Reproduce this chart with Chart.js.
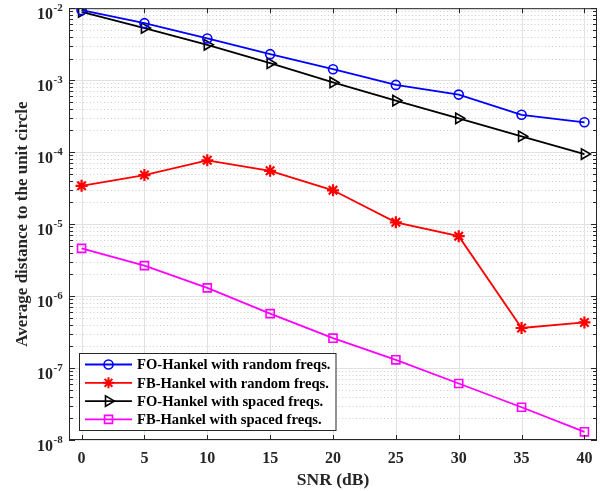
<!DOCTYPE html>
<html>
<head>
<meta charset="utf-8">
<script src="https://cdn.jsdelivr.net/npm/chart.js@4"></script>
<style>
  html, body { margin: 0; padding: 0; background: #fff; }
  #wrap { width: 608px; height: 491px; }
</style>
</head>
<body>
<div id="wrap"><canvas id="chartCanvas"></canvas></div>
<script>
"use strict";

const snr = [0, 5, 10, 15, 20, 25, 30, 35, 40];
const foRandom = [9.4e-3, 6.2e-3, 3.8e-3, 2.3e-3, 1.42e-3, 8.6e-4, 6.3e-4, 3.3e-4, 2.6e-4];
const fbRandom = [3.4e-5, 4.8e-5, 7.7e-5, 5.5e-5, 2.95e-5, 1.06e-5, 6.8e-6, 3.6e-7, 4.3e-7];
const foSpaced = [8.9e-3, 5.3e-3, 3.1e-3, 1.72e-3, 9.3e-4, 5.2e-4, 2.95e-4, 1.66e-4, 9.4e-5];
const fbSpaced = [4.6e-6, 2.65e-6, 1.3e-6, 5.7e-7, 2.6e-7, 1.3e-7, 6.1e-8, 2.85e-8, 1.3e-8];

const seriesLabels = [
  "FO-Hankel with random freqs.",
  "FB-Hankel with random freqs.",
  "FO-Hankel with spaced freqs.",
  "FB-Hankel with spaced freqs.",
];
const xTicks = [0, 5, 10, 15, 20, 25, 30, 35, 40];
const yExponents = [-8, -7, -6, -5, -4, -3, -2];

const SERIF = "'Liberation Serif', 'Times New Roman', serif";
const AXIS_COLOR = "#262626";

function points(values) {
  return snr.map((x, i) => ({ x: x, y: values[i] }));
}

function drawMarker(ctx, style, x, y, color) {
  ctx.save();
  ctx.strokeStyle = color;
  ctx.beginPath();
  if (style === "circle") {
    ctx.lineWidth = 1.6;
    ctx.arc(x, y, 4.5, 0, Math.PI * 2);
  } else if (style === "star") {
    ctx.lineWidth = 2;
    const r = 5.5;
    for (let k = 0; k < 4; k++) {
      const a = (k * Math.PI) / 4;
      ctx.moveTo(x - Math.cos(a) * r, y - Math.sin(a) * r);
      ctx.lineTo(x + Math.cos(a) * r, y + Math.sin(a) * r);
    }
  } else if (style === "triangle") {
    ctx.lineWidth = 1.6;
    const r = 6;
    ctx.moveTo(x + r, y);
    ctx.lineTo(x - r / 2, y - r * 0.866);
    ctx.lineTo(x - r / 2, y + r * 0.866);
    ctx.closePath();
  } else if (style === "rect") {
    ctx.lineWidth = 1.6;
    ctx.rect(x - 4, y - 4, 8, 8);
  }
  ctx.stroke();
  ctx.restore();
}

const matlabAxes = {
  id: "matlabAxes",
  beforeDatasetsDraw(chart) {
    const { ctx, chartArea: a, scales } = chart;
    const xs = scales.x, ys = scales.y;
    ctx.save();
    // minor grid, dotted
    ctx.strokeStyle = "#cdcdcd";
    ctx.lineWidth = 1;
    ctx.setLineDash([1, 2.5]);
    ctx.beginPath();
    yExponents.slice(0, -1).forEach((e) => {
      for (let m = 2; m <= 9; m++) {
        const py = Math.round(ys.getPixelForValue(m * Math.pow(10, e))) + 0.5;
        ctx.moveTo(a.left, py);
        ctx.lineTo(a.right, py);
      }
    });
    ctx.stroke();
    // major grid, solid
    ctx.setLineDash([]);
    ctx.strokeStyle = "#e2e2e2";
    ctx.beginPath();
    yExponents.forEach((e) => {
      const py = Math.round(ys.getPixelForValue(Math.pow(10, e))) + 0.5;
      ctx.moveTo(a.left, py);
      ctx.lineTo(a.right, py);
    });
    xTicks.forEach((t) => {
      const px = Math.round(xs.getPixelForValue(t)) + 0.5;
      ctx.moveTo(px, a.top);
      ctx.lineTo(px, a.bottom);
    });
    ctx.stroke();
    ctx.restore();
  },
  afterDatasetsDraw(chart) {
    const { ctx, chartArea: a, scales } = chart;
    const xs = scales.x, ys = scales.y;
    ctx.save();
    // box
    ctx.strokeStyle = AXIS_COLOR;
    ctx.lineWidth = 1;
    ctx.strokeRect(a.left + 0.5, a.top + 0.5, a.right - a.left - 1, a.bottom - a.top - 1);
    // ticks
    ctx.beginPath();
    xTicks.forEach((t) => {
      const px = Math.round(xs.getPixelForValue(t)) + 0.5;
      ctx.moveTo(px, a.bottom);
      ctx.lineTo(px, a.bottom - 5);
      ctx.moveTo(px, a.top);
      ctx.lineTo(px, a.top + 5);
    });
    yExponents.forEach((e, idx) => {
      const py = Math.round(ys.getPixelForValue(Math.pow(10, e))) + 0.5;
      ctx.moveTo(a.left, py);
      ctx.lineTo(a.left + 6, py);
      ctx.moveTo(a.right, py);
      ctx.lineTo(a.right - 6, py);
      if (idx < yExponents.length - 1) {
        for (let m = 2; m <= 9; m++) {
          const pm = Math.round(ys.getPixelForValue(m * Math.pow(10, e))) + 0.5;
          ctx.moveTo(a.left, pm);
          ctx.lineTo(a.left + 4, pm);
          ctx.moveTo(a.right, pm);
          ctx.lineTo(a.right - 4, pm);
        }
      }
    });
    ctx.stroke();

    // x tick labels
    ctx.fillStyle = AXIS_COLOR;
    ctx.font = "bold 16px " + SERIF;
    ctx.textAlign = "center";
    ctx.textBaseline = "alphabetic";
    xTicks.forEach((t) => {
      ctx.fillText(String(t), xs.getPixelForValue(t), 463);
    });
    // y tick labels 10^e
    yExponents.forEach((e) => {
      const py = ys.getPixelForValue(Math.pow(10, e));
      ctx.font = "bold 16px " + SERIF;
      ctx.textAlign = "right";
      ctx.fillText("10", 53, py + 11);
      ctx.font = "bold 11px " + SERIF;
      ctx.textAlign = "left";
      ctx.fillText("-" + Math.abs(e), 53.5, py + 3);
    });
    // axis titles
    ctx.font = "bold 17.5px " + SERIF;
    ctx.textAlign = "center";
    ctx.fillText("SNR (dB)", (a.left + a.right) / 2, 485);
    ctx.save();
    ctx.translate(27, (a.top + a.bottom) / 2);
    ctx.rotate(-Math.PI / 2);
    ctx.font = "bold 17px " + SERIF;
    ctx.fillText("Average distance to the unit circle", 0, 0);
    ctx.restore();

    // legend
    const lx = 79.5, ly = 353.5, lw = 256.5, lh = 77;
    ctx.fillStyle = "#fff";
    ctx.fillRect(lx, ly, lw, lh);
    ctx.strokeStyle = AXIS_COLOR;
    ctx.strokeRect(lx, ly, lw, lh);
    ctx.font = "bold 14.6px " + SERIF;
    ctx.textAlign = "left";
    ctx.textBaseline = "middle";
    chart.data.datasets.forEach((ds, i) => {
      const ry = 364.5 + i * 18.3;
      ctx.strokeStyle = ds.borderColor;
      ctx.lineWidth = 1.8;
      ctx.beginPath();
      ctx.moveTo(85, ry);
      ctx.lineTo(132, ry);
      ctx.stroke();
      drawMarker(ctx, ds.pointStyle, 108.5, ry, ds.borderColor);
      ctx.fillStyle = "#000";
      ctx.fillText(ds.label, 137, ry + 1);
    });
    ctx.restore();
  },
};

const ctx = document.getElementById("chartCanvas").getContext("2d");

new Chart(ctx, {
  type: "line",
  data: {
    datasets: [
      {
        label: seriesLabels[0],
        data: points(foRandom),
        borderColor: "#0000ff",
        pointStyle: "circle",
        pointRadius: 4.5,
        pointBorderWidth: 1.6,
      },
      {
        label: seriesLabels[1],
        data: points(fbRandom),
        borderColor: "#ff0000",
        pointStyle: "star",
        pointRadius: 6,
        pointBorderWidth: 2.2,
      },
      {
        label: seriesLabels[2],
        data: points(foSpaced),
        borderColor: "#000000",
        pointStyle: "triangle",
        pointRotation: 90,
        pointRadius: 6,
        pointBorderWidth: 1.6,
      },
      {
        label: seriesLabels[3],
        data: points(fbSpaced),
        borderColor: "#ff00ff",
        pointStyle: "rect",
        pointRadius: 5.7,
        pointBorderWidth: 1.6,
      },
    ].map((d) => Object.assign(d, {
      borderWidth: 1.8,
      pointBorderColor: d.borderColor,
      pointBackgroundColor: "rgba(255,255,255,0)",
      pointHoverRadius: d.pointRadius,
      fill: false,
      tension: 0,
    })),
  },
  options: {
    responsive: true,
    maintainAspectRatio: false,
    animation: false,
    layout: { padding: { top: 8, right: 11, left: 0, bottom: 0 } },
    plugins: {
      legend: { display: false },
      tooltip: { enabled: false },
    },
    scales: {
      x: {
        type: "linear",
        min: -1,
        max: 41,
        ticks: { display: false },
        grid: { display: false },
        border: { display: false },
        afterFit: (s) => { s.height = 51; },
      },
      y: {
        type: "logarithmic",
        min: 1e-8,
        max: 1e-2,
        ticks: { display: false },
        grid: { display: false },
        border: { display: false },
        afterFit: (s) => { s.width = 69; },
      },
    },
  },
  plugins: [matlabAxes],
});
</script>
</body>
</html>
